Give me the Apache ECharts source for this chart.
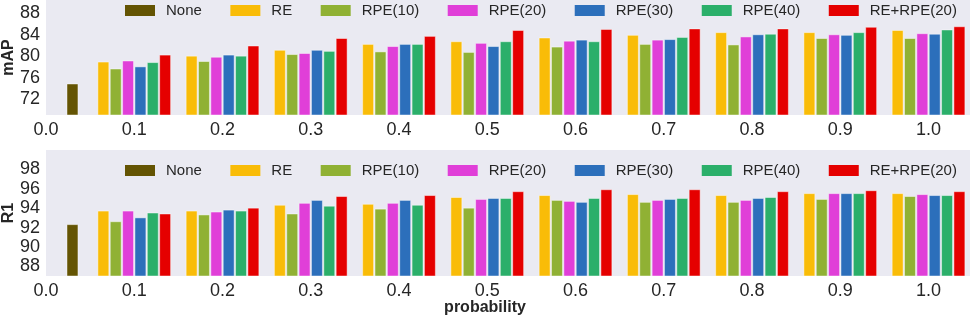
<!DOCTYPE html>
<html><head><meta charset="utf-8">
<script src="https://cdn.jsdelivr.net/npm/echarts@6/dist/echarts.min.js"></script>
<style>html,body{margin:0;padding:0;background:#fff}#c{width:970px;height:317px}</style>
</head><body><div id="c"></div>
<script>
const probs = [0.1, 0.2, 0.3, 0.4, 0.5, 0.6, 0.7, 0.8, 0.9, 1.0];
const noneProb = [0.03];
const seriesNames = ['RE', 'RPE(10)', 'RPE(20)', 'RPE(30)', 'RPE(40)', 'RE+RPE(20)'];
const xTickValues = [0.0, 0.1, 0.2, 0.3, 0.4, 0.5, 0.6, 0.7, 0.8, 0.9, 1.0];
const mapTicks = [72, 76, 80, 84, 88];
const r1Ticks = [88, 90, 92, 94, 96, 98];

const mapNone = [74.8];
const mapRE = [78.9, 80.0, 81.1, 82.2, 82.7, 83.4, 83.9, 84.4, 84.4, 84.8];
const mapRPE10 = [77.6, 79.0, 80.3, 80.8, 80.7, 81.7, 82.2, 82.1, 83.3, 83.3];
const mapRPE20 = [79.1, 79.8, 80.5, 81.8, 82.4, 82.8, 83.0, 83.6, 84.0, 84.2];
const mapRPE30 = [78.0, 80.2, 81.1, 82.2, 81.8, 83.0, 83.1, 84.0, 83.9, 84.1];
const mapRPE40 = [78.8, 80.0, 80.9, 82.2, 82.7, 82.7, 83.5, 84.1, 84.4, 84.9];
const mapRERPE = [80.2, 81.9, 83.3, 83.7, 84.8, 85.0, 85.1, 85.1, 85.4, 85.5];

const r1None = [92.3];
const r1RE = [93.7, 93.7, 94.3, 94.4, 95.1, 95.3, 95.4, 95.3, 95.5, 95.5];
const r1RPE10 = [92.6, 93.3, 93.4, 93.9, 94.0, 94.8, 94.6, 94.6, 94.9, 95.2];
const r1RPE20 = [93.7, 93.6, 94.5, 94.5, 94.9, 94.7, 94.8, 94.8, 95.5, 95.4];
const r1RPE30 = [93.0, 93.8, 94.8, 94.8, 95.0, 94.6, 94.9, 95.0, 95.5, 95.3];
const r1RPE40 = [93.5, 93.7, 94.2, 94.3, 95.0, 95.0, 95.0, 95.1, 95.5, 95.3];
const r1RERPE = [93.4, 94.0, 95.2, 95.3, 95.7, 95.9, 95.9, 95.7, 95.8, 95.7];

const noneColor = '#645403';
const colors = ['#f9bc08', '#90b134', '#e03fd8', '#2c6fbb', '#2baf6a', '#e50000'];

const STEP = 0.014;
const FONT = 'Liberation Sans, Arial, sans-serif';
const TXT = '#262626';
const Y_MIN = [69, 87];

function render(offset, yMin) {
  return function (params, api) {
    const xc = api.value(0) + offset;
    const a = api.coord([xc - STEP / 2, api.value(1)]);
    const b = api.coord([xc + STEP / 2, yMin]);
    const gap = 1.4;
    return {
      type: 'rect',
      shape: { x: a[0] + gap / 2, y: a[1], width: b[0] - a[0] - gap, height: b[1] - a[1] },
      style: { fill: api.visual('color'), stroke: 'rgba(255,255,255,0.45)', lineWidth: 1 }
    };
  };
}

const mapSets = [mapRE, mapRPE10, mapRPE20, mapRPE30, mapRPE40, mapRERPE];
const r1Sets = [r1RE, r1RPE10, r1RPE20, r1RPE30, r1RPE40, r1RERPE];

const series = [];
[[mapNone, mapSets], [r1None, r1Sets]].forEach(function (pair, gi) {
  series.push({
    type: 'custom', name: 'None', xAxisIndex: gi, yAxisIndex: gi,
    itemStyle: { color: noneColor },
    renderItem: render(0, Y_MIN[gi]),
    data: noneProb.map(function (p, i) { return [p, pair[0][i]]; })
  });
  pair[1].forEach(function (vals, k) {
    series.push({
      type: 'custom', name: seriesNames[k], xAxisIndex: gi, yAxisIndex: gi,
      itemStyle: { color: colors[k] },
      renderItem: render((k - 2.5) * STEP, Y_MIN[gi]),
      data: probs.map(function (p, i) { return [p, vals[i]]; })
    });
  });
});

const legendNames = ['None'].concat(seriesNames);
function legend(top) {
  return {
    data: legendNames, left: 125, top: top, width: 845, padding: 0, icon: 'rect',
    itemWidth: 30, itemHeight: 11, itemGap: 28.5, selectedMode: false,
    textStyle: { fontFamily: FONT, fontSize: 15, color: TXT, padding: [0, 0, 0, 6] }
  };
}

function xAxis(gi) {
  return {
    type: 'value', gridIndex: gi, min: 0, max: 1.047,
    axisLine: { show: false }, axisTick: { show: false }, splitLine: { show: false },
    axisLabel: {
      customValues: xTickValues, fontFamily: FONT, fontSize: 18, color: TXT, margin: 6,
      formatter: function (v) { return v.toFixed(1); }
    }
  };
}
function yAxis(gi, min, max, ticks, name) {
  return {
    type: 'value', gridIndex: gi, min: min, max: max,
    name: name, nameLocation: 'middle', nameGap: 29, nameMoveOverlap: false,
    nameTextStyle: { fontFamily: FONT, fontSize: 16, fontWeight: 'bold', color: TXT },
    axisLine: { show: false }, axisTick: { show: false }, splitLine: { show: false },
    axisLabel: { customValues: ticks, fontFamily: FONT, fontSize: 18, color: TXT, margin: 6 }
  };
}

const chart = echarts.init(document.getElementById('c'), null, { renderer: 'canvas' });
chart.setOption({
  animation: false,
  backgroundColor: '#ffffff',
  title: {
    text: 'probability', left: 'center', top: 295,
    textStyle: { fontFamily: FONT, fontSize: 16, fontWeight: 'bold', color: TXT }
  },
  legend: [legend(3), legend(163)],
  grid: [
    { left: 46, right: 0, top: 0, height: 115, show: true, backgroundColor: '#eaeaf2', borderWidth: 0, containLabel: false, outerBoundsMode: 'none' },
    { left: 46, right: 0, top: 150, height: 126, show: true, backgroundColor: '#eaeaf2', borderWidth: 0, containLabel: false, outerBoundsMode: 'none' }
  ],
  xAxis: [xAxis(0), xAxis(1)],
  yAxis: [yAxis(0, 69, 90.5, mapTicks, 'mAP'), yAxis(1, 87, 100, r1Ticks, 'R1')],
  series: series
});
</script>
</body></html>
